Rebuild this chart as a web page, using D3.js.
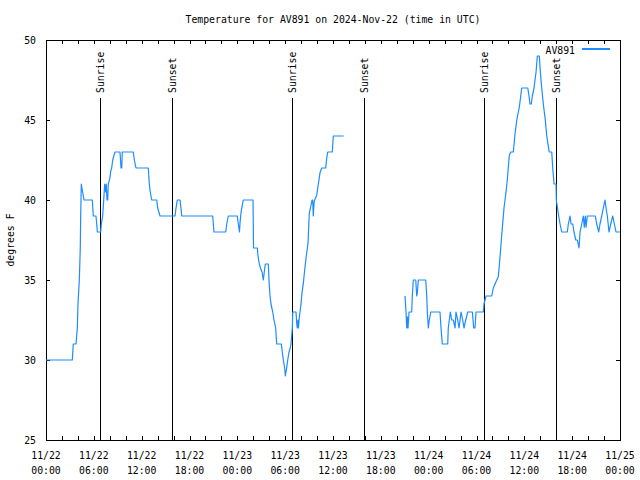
<!DOCTYPE html>
<html><head><meta charset="utf-8">
<script src="https://cdn.jsdelivr.net/npm/d3@7"></script>
<style>
body{margin:0;background:#fff}
text{font-family:"DejaVu Sans Mono","Liberation Mono",monospace;font-size:9.8px;fill:#000}
</style>
</head><body><svg id="c" width="640" height="480"></svg>
<script>
const chartTitle = "Temperature for AV891 on 2024-Nov-22 (time in UTC)";
const seriesName = "AV891";
const yLabel = "degrees F";

// hours since 2024-11-22 00:00 UTC ; null temp marks the data gap
const hours = [0.00,3.30,3.42,3.76,3.93,4.01,4.18,4.30,4.35,4.43,4.52,4.60,4.77,5.81,5.93,6.27,6.36,6.44,6.86,6.94,
7.11,7.24,7.36,7.49,7.56,7.65,7.74,7.81,7.99,8.12,8.24,8.37,8.53,8.66,9.28,9.41,9.50,9.57,10.95,11.08,
11.29,12.83,12.96,13.08,13.26,13.89,14.01,14.30,16.18,16.31,16.47,16.81,16.93,17.02,20.91,21.07,22.54,22.67,22.87,24.00,
24.12,24.21,24.27,24.34,24.46,24.59,24.75,25.97,26.03,26.51,26.59,26.76,26.93,27.10,27.26,27.38,27.51,27.89,27.97,28.10,
28.22,28.44,28.60,28.81,28.94,29.52,29.64,29.77,29.94,30.02,30.19,30.32,30.48,30.61,30.73,30.90,30.95,31.36,31.45,31.52,
31.61,31.67,31.74,31.86,31.99,32.11,32.28,32.40,32.53,32.70,32.87,32.95,33.03,33.21,33.37,33.45,33.53,33.62,33.70,33.96,
34.16,34.37,34.58,35.09,35.21,35.34,35.91,36.04,37.34,
41.00,
45.03,45.16,45.25,45.32,45.41,45.54,45.87,45.95,46.07,46.38,46.50,46.58,46.70,47.63,47.76,47.83,47.96,48.08,48.26,49.42,
49.55,49.71,50.39,50.46,50.59,50.72,50.89,51.09,51.31,51.43,51.64,51.81,52.06,52.27,52.43,52.65,52.90,53.48,53.65,53.81,
53.94,54.86,54.94,55.19,55.91,56.11,56.54,56.74,57.04,57.16,57.37,57.45,57.70,57.87,58.12,58.29,58.62,58.80,59.05,59.37,
59.55,59.67,60.43,60.59,60.71,60.88,61.00,61.22,61.34,61.47,61.63,61.88,62.01,62.18,62.38,62.63,62.81,63.06,63.13,63.44,
63.56,63.73,63.98,64.01,64.31,64.48,64.69,65.39,65.52,65.73,65.86,66.07,66.23,66.45,66.65,66.86,66.99,67.20,67.40,67.52,
67.65,67.74,67.90,68.91,69.08,69.33,69.49,69.71,69.91,70.12,70.25,70.41,70.62,70.84,71.09,71.29,71.50,72.00];
const temps = [30,30,31,31,32,33.5,35,37,39,41,40.7,40.5,40,40,39,39,38.5,38,38,38.5,
39,40,41,40.5,41,40,40,41,41.3,41.8,42,42.5,42.8,43,43,42,42,43,43,42.5,
42,42,41,40.5,40,40,39.5,39,39,39.5,40,40,39.5,39,39,38,38,38.5,39,39,
38.5,38.2,38,38.6,39.2,39.6,40,40,37,37,36.5,36,35.7,35.5,35,35.5,36,36,35,34,
33.5,33,32.5,32,31,31,30.5,30,29.5,29,29.5,30,30.5,30.7,31,32,33,33,32.3,32,
32.5,32,32.5,33,33.5,34.2,34.8,35.4,36,36.7,37.3,38.3,39.2,39.6,40,40,39,39.8,40,40.3,
41,41.7,42,42,42.6,43,43,44,44,
null,
34,33,32,32.7,32,33,33,34,35,35,34,34.2,35,35,34,33,32,32.5,33,33,
32,31,31,32,32.5,33,32.5,32.5,32,33,32.5,32,33,32.5,32,32.5,33,33,32,32,
33,33,33.5,34,34,34.5,35,35.2,37,37.8,39,39.5,40.5,41.3,42.8,43,43,44,45,45.8,
46.5,47,47,46.5,46,46,46.5,47,47.5,48,49,49,48,47,46,45,44,43.2,43,43,
42,41,41,40,39,38.5,38,38,38.5,39,38.5,38.5,38,37.5,37.5,37,38,38.5,39,38.3,
39,38.3,39,39,38.5,38,38.5,39,39.5,40,39.5,39,38,38.5,39,38.5,38,38];

const sunLabels = ["Sunrise","Sunset","Sunrise","Sunset","Sunrise","Sunset"];
const sunHours = [6.81,15.84,30.90,39.89,54.98,64.01];

const yTicks = [25,30,35,40,45,50];
const xLabelHours = [0,6,12,18,24,30,36,42,48,54,60,66,72];
const xLabelDates = ["11/22","11/22","11/22","11/22","11/23","11/23","11/23","11/23","11/24","11/24","11/24","11/24","11/25"];
const xLabelTimes = ["00:00","06:00","12:00","18:00","00:00","06:00","12:00","18:00","00:00","06:00","12:00","18:00","00:00"];
const xMinorHours = d3.range(0, 73, 2);

const L = 46, R = 620, T = 40, B = 440;
const svg = d3.select("#c");
const x = d3.scaleLinear().domain([0,72]).range([L,R]);
const y = d3.scaleLinear().domain([25,50]).range([B,T]);

// title
svg.append("text").attr("x",(L+R)/2).attr("y",23).attr("text-anchor","middle").text(chartTitle);
// y label
svg.append("text").attr("transform","translate(14,240) rotate(-90)").attr("text-anchor","middle").text(yLabel);

const crisp = g => g.attr("shape-rendering","crispEdges");

// y axis ticks (left + mirrored right)
const yl = svg.append("g").attr("transform",`translate(${L},0)`)
  .call(d3.axisLeft(y).tickValues(yTicks).tickSizeInner(-4).tickSizeOuter(0).tickPadding(10).tickFormat(d3.format("d")));
const yr = svg.append("g").attr("transform",`translate(${R},0)`)
  .call(d3.axisRight(y).tickValues(yTicks).tickSizeInner(-4).tickSizeOuter(0).tickFormat(""));
// x ticks bottom + top
const xb = svg.append("g").attr("transform",`translate(0,${B})`)
  .call(d3.axisBottom(x).tickValues(xMinorHours).tickSizeInner(-4).tickSizeOuter(0).tickFormat(""));
const xt = svg.append("g").attr("transform",`translate(0,${T})`)
  .call(d3.axisTop(x).tickValues(xMinorHours).tickSizeInner(-4).tickSizeOuter(0).tickFormat(""));
[yl,yr,xb,xt].forEach(g=>{
  g.select(".domain").remove();
  g.selectAll("line").attr("stroke","#000").call(crisp);
  g.selectAll("text").attr("font-family",null).attr("font-size",null).attr("fill","#000");
});
yl.selectAll("text").attr("dy","0.35em");

// x labels (two lines)
const xl = svg.append("g");
xLabelHours.forEach((h,i)=>{
  const t = xl.append("text").attr("x",x(h)).attr("text-anchor","middle");
  t.append("tspan").attr("x",x(h)).attr("y",459).text(xLabelDates[i]);
  t.append("tspan").attr("x",x(h)).attr("y",474).text(xLabelTimes[i]);
});

// sunrise / sunset lines
sunHours.forEach((h,i)=>{
  svg.append("line").attr("x1",x(h)).attr("x2",x(h)).attr("y1",98).attr("y2",B)
    .attr("stroke","#000").attr("stroke-width",1).call(crisp);
  svg.append("text").attr("transform",`translate(${x(h)+4},93) rotate(-90)`).text(sunLabels[i]);
});

// frame
svg.append("rect").attr("x",L).attr("y",T).attr("width",R-L).attr("height",B-T)
  .attr("fill","none").attr("stroke","#000").call(crisp);

// data line
const pts = hours.map((h,i)=>({h, v: temps[i]}));
const line = d3.line().defined(d=>d.v!=null).x(d=>x(d.h)).y(d=>y(d.v));
svg.append("path").datum(pts).attr("d",line).attr("fill","none")
  .attr("stroke","#1e8cff").attr("stroke-width",1.2).attr("stroke-linejoin","round");

// legend
svg.append("text").attr("x",575).attr("y",54).attr("text-anchor","end").text(seriesName);
svg.append("line").attr("x1",582).attr("x2",610).attr("y1",49).attr("y2",49)
  .attr("stroke","#1e8cff").attr("stroke-width",1.2).call(crisp);
</script></body></html>
